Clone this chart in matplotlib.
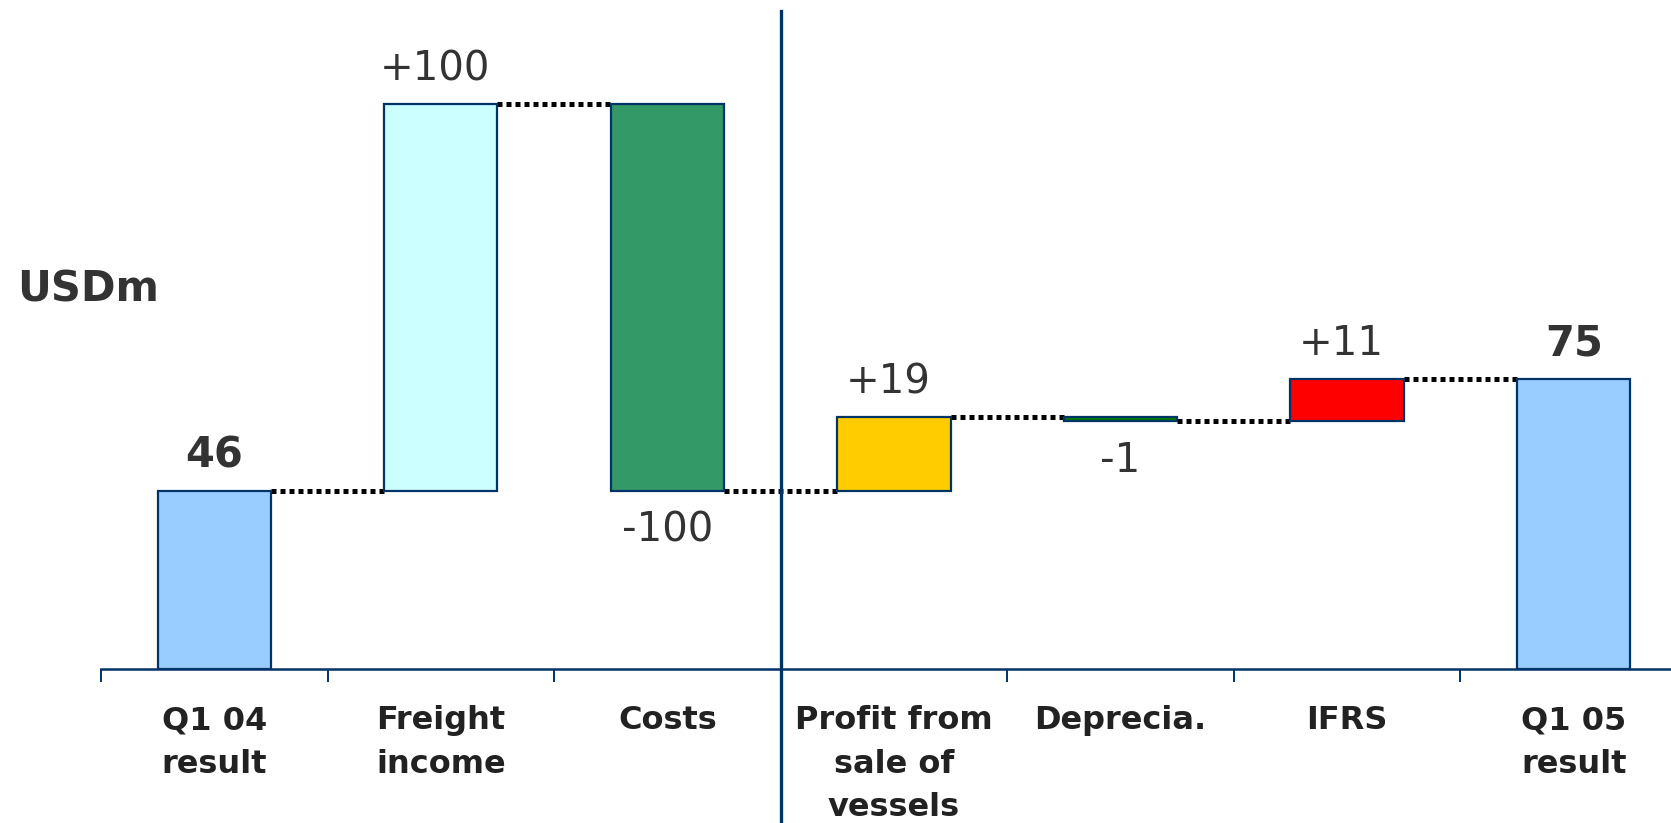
import matplotlib.pyplot as plt

# Waterfall: Q1 04 result -> Q1 05 result (USDm)
categories = ["Q1 04\nresult", "Freight\nincome", "Costs", "Profit from\nsale of\nvessels",
              "Deprecia.", "IFRS", "Q1 05\nresult"]
values = [46, 100, -100, 19, -1, 11, 75]
value_labels = ["46", "+100", "-100", "+19", "-1", "+11", "75"]
is_total = [True, False, False, False, False, False, True]
colors = ["#99CCFF", "#CCFFFF", "#339966", "#FFCC00", "#008000", "#FF0000", "#99CCFF"]

navy = "#003366"
text_col = "#333333"

fig = plt.figure(figsize=(16.71, 8.23), dpi=100)
ax = fig.add_axes([101 / 1671, 154 / 823, 1586 / 1671, 658 / 823])

bottoms, heights, levels = [], [], []
level = 0
for v, tot in zip(values, is_total):
    if tot:
        bottoms.append(0)
        heights.append(v)
        level = v
    else:
        bottoms.append(level if v > 0 else level + v)
        heights.append(abs(v))
        level += v
    levels.append(level)

x = list(range(len(values)))
width = 0.5
ax.bar(x, heights, bottom=bottoms, width=width, color=colors,
       edgecolor=navy, linewidth=1.6, zorder=3)

# dotted connectors between neighbouring bars
for i in range(len(values) - 1):
    ax.plot([i + width / 2, i + 1 - width / 2], [levels[i], levels[i]],
            color="black", linewidth=3.6, linestyle=(0, (1, 0.8)),
            solid_capstyle="butt", dash_capstyle="butt", zorder=2)

# value labels
for i, (v, lab, tot) in enumerate(zip(values, value_labels, is_total)):
    if v >= 0:
        y, off, va = bottoms[i] + heights[i], 17, "baseline"
    else:
        y, off, va = bottoms[i], -14, "top"
    dx = -4 if lab.startswith("+") else 0
    ax.annotate(lab, (i, y), xytext=(dx, off), textcoords="offset points",
                ha="center", va=va, color=text_col,
                fontsize=30 if tot else 29,
                fontweight="bold" if tot else "normal")

ax.set_xlim(-0.5, len(values) - 0.5)
ax.set_ylim(0, 170)

for s in ["top", "right", "left"]:
    ax.spines[s].set_visible(False)
ax.spines["bottom"].set_color(navy)
ax.spines["bottom"].set_linewidth(1.8)
ax.set_yticks([])

ax.set_xticks(x)
ax.set_xticklabels(categories, fontsize=23, fontweight="bold", color="#222222",
                   linespacing=1.52, va="top")
ax.tick_params(axis="x", which="major", length=0, pad=26)
ax.set_xticks([i - 0.5 for i in range(len(values))], minor=True)
ax.tick_params(axis="x", which="minor", length=9, width=1.4, color=navy, direction="out")

# divider between operating items and other items
ax.axvline(2.5, ymin=-0.3, ymax=1.0, color=navy, linewidth=2.4, clip_on=False, zorder=4)

fig.text(17 / 1671, 1 - 302 / 823, "USDm", fontsize=30, fontweight="bold",
         color=text_col, ha="left", va="baseline")

fig.savefig("out.png", dpi=100)
